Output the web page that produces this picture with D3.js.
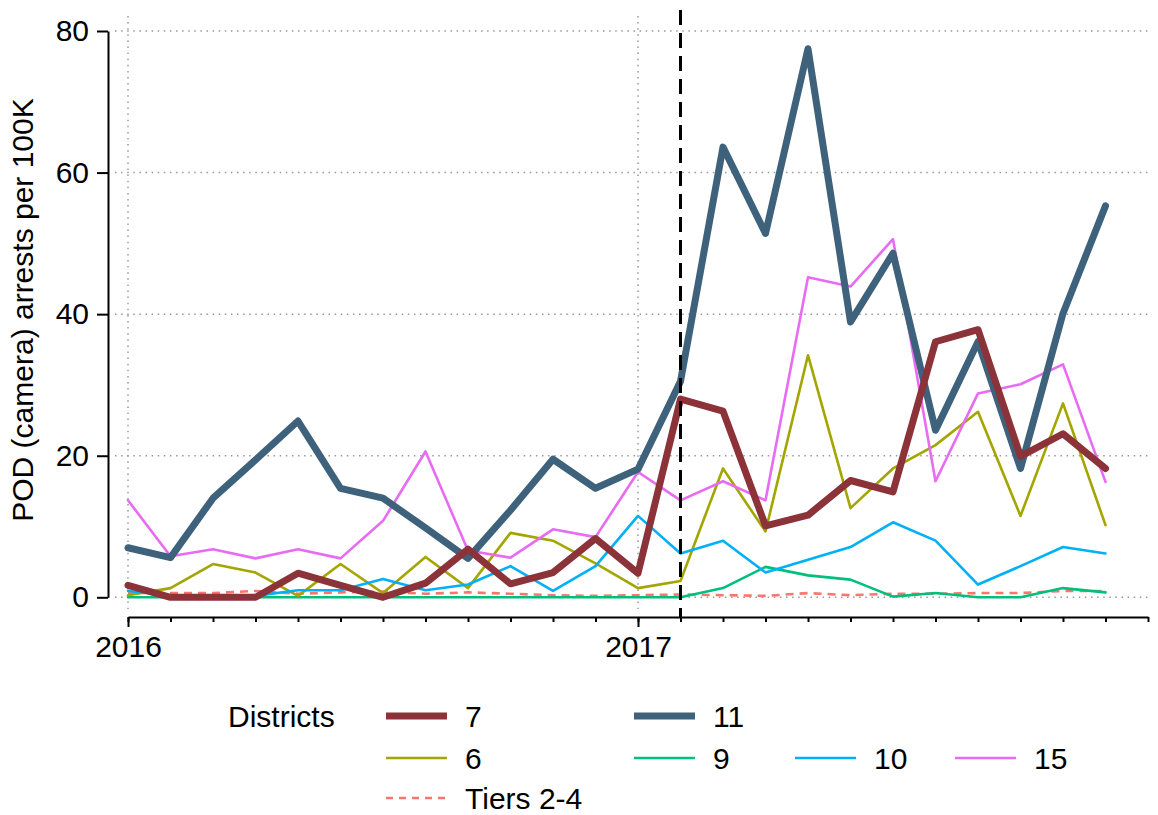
<!DOCTYPE html>
<html><head><meta charset="utf-8">
<script src="https://cdn.jsdelivr.net/npm/d3@7"></script>
<style>body{margin:0;background:#fff} text{font-family:"Liberation Sans",Arial,Helvetica,sans-serif;fill:#000}</style>
</head><body><svg id="c" width="1158" height="815"></svg>
<script>
// ---- data (monthly, Jan 2016 .. Dec 2017) ----
const monthIdx = d3.range(24);            // 0 = Jan 2016
const yearTicks = [0, 12];
const yearLabels = ["2016", "2017"];
const yTicks = [0, 20, 40, 60, 80];
const interventionMonth = 13;            // Feb 2017

const d7  = [1.7,0,0,0,3.4,1.7,0,2.0,6.8,1.9,3.5,8.3,3.4,28.0,26.3,10.1,11.6,16.5,14.9,36.1,37.8,19.9,23.1,18.2];
const d11 = [7.0,5.6,14.0,19.4,24.9,15.4,14.0,9.8,5.5,12.3,19.5,15.4,18.1,30.5,63.6,51.4,77.5,38.9,48.6,23.6,36.1,18.2,40.1,55.3];
const d6  = [0.3,1.3,4.7,3.5,0.2,4.7,0.6,5.7,1.3,9.1,8.0,4.8,1.3,2.3,18.2,9.3,34.2,12.6,18.2,21.5,26.2,11.5,27.4,10.2];
const d9  = [0,0,0,0,0,0,0,0,0,0,0,0,0,0,1.3,4.3,3.1,2.5,0.1,0.6,0,0,1.3,0.7];
const d10 = [0.9,0.3,0.2,0.2,1.0,1.0,2.6,1.0,1.8,4.4,0.9,4.4,11.5,6.2,8.0,3.5,5.3,7.1,10.6,8.0,1.8,4.4,7.1,6.2];
const d15 = [13.7,5.8,6.8,5.5,6.8,5.5,10.8,20.6,6.6,5.6,9.6,8.5,17.7,13.7,16.4,13.7,45.2,43.9,50.6,16.4,28.8,30.1,32.9,16.3];
const dTiers = [0.6,0.6,0.6,0.9,0.5,0.7,0.8,0.5,0.7,0.5,0.3,0.2,0.3,0.4,0.3,0.2,0.6,0.3,0.5,0.5,0.6,0.6,0.9,0.9];

const seriesNames = ["7","11","6","9","10","15","Tiers 2-4"];
const seriesData  = [d7, d11, d6, d9, d10, d15, dTiers];

// ---- styles ----
const colors = {"7":"#8C3239","11":"#3E627B","6":"#A3A500","9":"#00BF7D","10":"#00B0F6","15":"#E76BF3","Tiers 2-4":"#F8766D"};
const widths = {"7":7,"11":7,"6":2.6,"9":2.6,"10":2.6,"15":2.6,"Tiers 2-4":2.6};
const dashes = {"Tiers 2-4":"8,6"};
const drawOrder = ["Tiers 2-4","9","6","10","15","11","7"];

const FS = 30;
const svg = d3.select("#c");
const x = d3.scaleLinear().domain([0, 24]).range([128, 1148]);
const y = d3.scaleLinear().domain([0, 80]).range([597.3, 31]);
const panel = {x0: 115, x1: 1150, y0: 16, y1: 609};

// gridlines
const grid = svg.append("g").attr("stroke","#999").attr("stroke-width",1.5).attr("stroke-dasharray","1.5,4.6");
yTicks.forEach(v => grid.append("line").attr("x1",panel.x0).attr("x2",panel.x1).attr("y1",y(v)).attr("y2",y(v)));
yearTicks.forEach(v => grid.append("line").attr("x1",x(v)).attr("x2",x(v)).attr("y1",panel.y0).attr("y2",panel.y1));

// lines
const line = d3.line().x((d,i)=>x(monthIdx[i])).y(d=>y(d));
drawOrder.forEach(name => {
  const k = seriesNames.indexOf(name);
  svg.append("path").datum(seriesData[k])
    .attr("d", line).attr("fill","none")
    .attr("stroke", colors[name]).attr("stroke-width", widths[name])
    .attr("stroke-linejoin","round").attr("stroke-linecap", dashes[name] ? "butt" : "round")
    .attr("stroke-dasharray", dashes[name] || null);
});

// intervention line
svg.append("line").attr("x1",x(interventionMonth)).attr("x2",x(interventionMonth))
  .attr("y1",10).attr("y2",617).attr("stroke","#000").attr("stroke-width",3).attr("stroke-dasharray","15,8");

// y axis
const ya = svg.append("g").attr("transform","translate(108,0)")
  .call(d3.axisLeft(y).tickValues(yTicks).tickSize(11).tickPadding(8).tickSizeOuter(0));
ya.select(".domain").attr("stroke-width",2);
ya.selectAll(".tick line").attr("stroke-width",2);
ya.selectAll(".tick text").style("font-size",FS+"px").attr("font-family",null);

// x axis: monthly minor ticks, year major ticks
const xa = svg.append("g").attr("transform","translate(0,617)");
xa.call(d3.axisBottom(x).tickValues(d3.range(0,25)).tickSize(5).tickFormat("").tickSizeOuter(0));
xa.select(".domain").attr("stroke-width",2);
xa.selectAll(".tick line").attr("stroke-width",2);
const xb = svg.append("g").attr("transform","translate(0,617)");
xb.call(d3.axisBottom(x).tickValues(yearTicks).tickSize(10).tickPadding(9).tickFormat((d,i)=>yearLabels[i]).tickSizeOuter(0));
xb.select(".domain").remove();
xb.selectAll(".tick line").attr("stroke-width",2);
xb.selectAll(".tick text").style("font-size",FS+"px").attr("font-family",null);

// y title
svg.append("text").attr("transform",`translate(33,310) rotate(-90)`)
  .attr("text-anchor","middle").style("font-size",FS+"px").text("POD (camera) arrests per 100K");

// legend
const legendRows = [716, 758, 798];
const legendCols = [386, 634, 795, 955];
const legendPos = {"7":[0,0],"11":[0,1],"6":[1,0],"9":[1,1],"10":[1,2],"15":[1,3],"Tiers 2-4":[2,0]};
svg.append("text").attr("x",228).attr("y",legendRows[0]).attr("dy","0.35em").style("font-size",FS+"px").text("Districts");
seriesNames.forEach(name => {
  const [r,c] = legendPos[name];
  const lx = legendCols[c], ly = legendRows[r];
  svg.append("line").attr("x1",lx).attr("x2",lx+61).attr("y1",ly).attr("y2",ly)
    .attr("stroke",colors[name]).attr("stroke-width",widths[name])
    .attr("stroke-dasharray", dashes[name] ? "7,6" : null);
  svg.append("text").attr("x",lx+79).attr("y",ly).attr("dy","0.35em").style("font-size",FS+"px").text(name);
});
</script></body></html>
